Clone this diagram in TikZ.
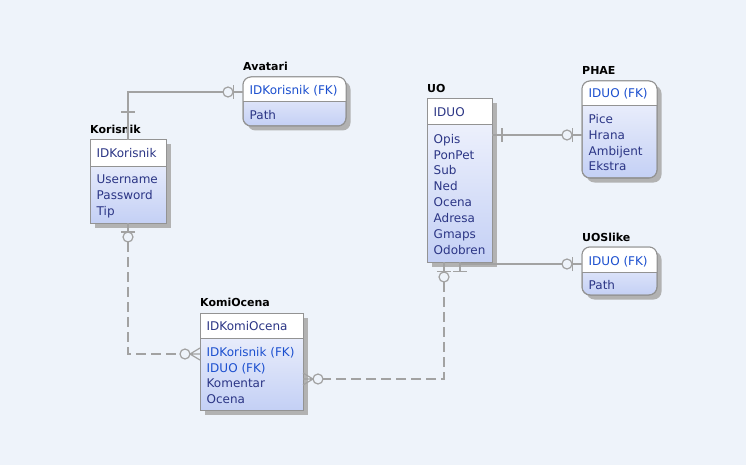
\documentclass[tikz,border=0pt]{standalone}
\usepackage{fontspec}
\setmainfont{DejaVu Sans}
\usetikzlibrary{shadows,calc}
\definecolor{bg}{HTML}{EEF3FA}
\definecolor{edge}{HTML}{939393}
\definecolor{attr}{HTML}{2B3585}
\definecolor{fk}{HTML}{1B4FCF}
\definecolor{boxtop}{HTML}{F4F6FD}
\definecolor{boxbot}{HTML}{C4D0F5}
\definecolor{conn}{HTML}{A2A2A2}
\tikzset{
  entity/.style={draw=edge, line width=1pt, inner sep=0pt, outer sep=0pt, anchor=north west,
    top color=boxtop, bottom color=boxbot,
    drop shadow={shadow xshift=4.5pt, shadow yshift=-4.5pt, fill=black!30, opacity=1}},
  title/.style={font=\fontsize{11}{13}\selectfont\bfseries, anchor=base west, inner sep=0pt, text=black},
  attrtext/.style={font=\fontsize{12}{14}\selectfont, anchor=base west, inner sep=0pt, text=attr},
  fktext/.style={attrtext, text=fk},
  rel/.style={draw=conn, line width=1.2pt},
  nonid/.style={rel, dash pattern=on 10pt off 5pt},
  relcircle/.style={draw=conn, line width=1.2pt, fill=bg},
}
\newcommand\erbox[7]{%
  \node[entity, rounded corners=#7, minimum width=#4pt, minimum height=#5pt] (#1) at (#2,#3) {};
  \begin{scope}
    \clip[rounded corners=#7] (#1.north west) rectangle (#1.south east);
    \fill[white] (#1.north west) rectangle ($(#1.north east)+(0,-#6)$);
  \end{scope}
  \draw[draw=edge, line width=1pt, rounded corners=#7] (#1.north west) rectangle (#1.south east);
  \draw[draw=edge, line width=1pt] ($(#1.north west)+(0,-#6)$) -- ($(#1.north east)+(0,-#6)$);
}
\begin{document}
\begin{tikzpicture}[x=1pt,y=1pt]
\fill[bg] (0,0) rectangle (746,-465);
\useasboundingbox (0,0) rectangle (746,-465);

% ---------- entities ----------
\erbox{kor}{90}{-140}{76}{83}{27}{0pt}
\erbox{ava}{243}{-77}{103}{49}{25}{8pt}
\erbox{uo}{427}{-99}{65}{163}{26}{0pt}
\erbox{phae}{582}{-81}{75}{97}{25}{8pt}
\erbox{uos}{582}{-247}{75}{48}{25}{8pt}
\erbox{komi}{200}{-313}{103}{97}{25}{0pt}

% ---------- titles ----------
\node[title] (korT)  at (90,-133.5)  {Korisnik};
\node[title] (avaT)  at (243,-70.5)  {Avatari};
\node[title] (uoT)   at (427,-93)    {UO};
\node[title] (phaeT) at (582,-75)    {PHAE};
\node[title] (uosT)  at (582,-241)   {UOSlike};
\node[title] (komiT) at (200,-306)   {KomiOcena};

% ---------- keys ----------
\node[attrtext] (korK)  at (96.5,-157.3)  {IDKorisnik};
\node[fktext]   (avaK)  at (249.5,-94.3)  {IDKorisnik (FK)};
\node[attrtext] (uoK)   at (433.5,-116.3) {IDUO};
\node[fktext]   (phaeK) at (588.5,-97.3)  {IDUO (FK)};
\node[fktext]   (uosK)  at (588.5,-265.3) {IDUO (FK)};
\node[attrtext] (komiK) at (206.5,-330.3) {IDKomiOcena};

% ---------- attributes ----------
\foreach \t [count=\i] in {Username,Password,Tip}
  \node[attrtext, name=korA\i] at (96.5,{-183.3-16*(\i-1)}) {\t};
\node[attrtext] (avaA1) at (249.5,-119.3) {Path};
\foreach \t [count=\i] in {Opis,PonPet,Sub,Ned,Ocena,Adresa,Gmaps,Odobren}
  \node[attrtext, name=uoA\i] at (433.5,{-143.3-15.85*(\i-1)}) {\t};
\foreach \t [count=\i] in {Pice,Hrana,Ambijent,Ekstra}
  \node[attrtext, name=phaeA\i] at (588.5,{-123.3-15.9*(\i-1)}) {\t};
\node[attrtext] (uosA1) at (588.5,-289.3) {Path};
\node[fktext]   (komiA1) at (206.5,-356.3) {IDKorisnik (FK)};
\node[fktext]   (komiA2) at (206.5,-372.0) {IDUO (FK)};
\node[attrtext] (komiA3) at (206.5,-387.7) {Komentar};
\node[attrtext] (komiA4) at (206.5,-403.4) {Ocena};

% ---------- connector anchors ----------
\coordinate (avaIn)  at ($(ava.north west)+(0,-15)$);
\coordinate (uoR)    at ($(uo.north east)+(0,-36)$);
\coordinate (phaeIn) at ($(phae.north west)+(0,-54)$);
\coordinate (uoB2)   at ($(uo.south west)+(33,0)$);
\coordinate (uosIn)  at ($(uos.north west)+(0,-17)$);
\coordinate (uoB1)   at ($(uo.south west)+(17,0)$);
\coordinate (komiR)  at ($(komi.north east)+(0,-66)$);
\coordinate (komiL)  at ($(komi.north west)+(0,-41)$);

% Korisnik -- Avatari
\draw[rel] (kor.north) |- (avaIn);
\draw[rel] ($(kor.north)+(-7,28)$) -- ++(14,0);
\draw[rel] ($(avaIn)+(-9.5,-7)$) -- ++(0,14);
\draw[relcircle] ($(avaIn)+(-15,0)$) circle[radius=5pt];

% UO -- PHAE
\draw[rel] (uoR) -- (phaeIn);
\draw[rel] ($(uoR)+(10,-7)$) -- ++(0,14);
\draw[rel] ($(phaeIn)+(-9.5,-7)$) -- ++(0,14);
\draw[relcircle] ($(phaeIn)+(-15,0)$) circle[radius=5pt];

% UO -- UOSlike
\draw[rel] (uoB2) |- (uosIn);
\draw[rel] (uoB2) -- ++(0,-9.5);
\draw[rel] ($(uoB2)+(-7,-9.5)$) -- ++(14,0);
\draw[rel] ($(uosIn)+(-9.5,-7)$) -- ++(0,14);
\draw[relcircle] ($(uosIn)+(-15,0)$) circle[radius=5pt];

% UO -- KomiOcena
\draw[rel] (uoB1) -- ++(0,-20);
\draw[nonid] ($(uoB1)+(0,-20)$) |- ($(komiR)+(15,0)$);
\draw[rel] ($(uoB1)+(-7,-9.5)$) -- ++(14,0);
\draw[relcircle] ($(uoB1)+(0,-15)$) circle[radius=5pt];
\draw[rel] ($(komiR)+(10,0)$) -- ($(komiR)+(0,6)$)
           ($(komiR)+(10,0)$) -- (komiR)
           ($(komiR)+(10,0)$) -- ($(komiR)+(0,-6)$);
\draw[relcircle] ($(komiR)+(15,0)$) circle[radius=5pt];

% Korisnik -- KomiOcena
\draw[rel] (kor.south) -- ++(0,-19);
\draw[nonid] ($(kor.south)+(0,-19)$) |- ($(komiL)+(-15,0)$);
\draw[rel] ($(kor.south)+(-7,-9)$) -- ++(14,0);
\draw[relcircle] ($(kor.south)+(0,-14)$) circle[radius=5pt];
\draw[rel] ($(komiL)+(-10,0)$) -- ($(komiL)+(0,6)$)
           ($(komiL)+(-10,0)$) -- (komiL)
           ($(komiL)+(-10,0)$) -- ($(komiL)+(0,-6)$);
\draw[relcircle] ($(komiL)+(-15,0)$) circle[radius=5pt];
\end{tikzpicture}
\end{document}
